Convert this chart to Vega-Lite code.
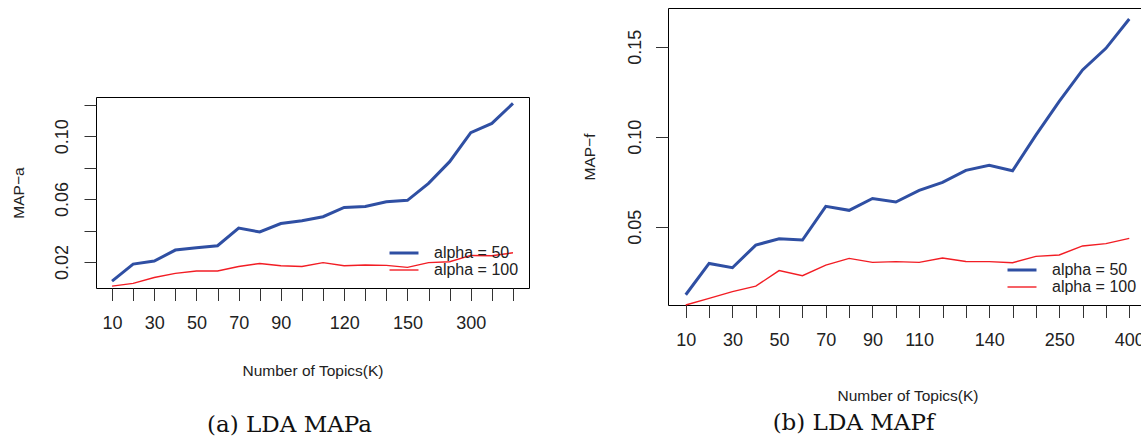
{
  "$schema": "https://vega.github.io/schema/vega-lite/v6.json",
  "padding": {"left": 10, "top": 7, "right": 0, "bottom": 0},
  "background": "white",
  "config": {
    "font": "Liberation Sans",
    "view": {"stroke": "#000", "strokeWidth": 1},
    "axis": {
      "grid": false, "domain": false, "tickColor": "#333", "tickWidth": 1,
      "labelFont": "Liberation Sans", "labelFontSize": 18, "labelColor": "#222",
      "labelOverlap": false, "labelFlush": false,
      "titleFont": "Liberation Sans", "titleFontSize": 15.5, "titleFontWeight": "normal", "titleColor": "#222"
    },
    "legend": {
      "symbolType": "M-2,0H2", "symbolSize": 210, "symbolStrokeWidth": 3,
      "labelFont": "Liberation Sans", "labelFontSize": 16, "labelColor": "#222",
      "labelOffset": 21, "rowPadding": 1, "padding": 0
    },
    "title": {"font": "DejaVu Serif", "fontSize": 23, "fontWeight": "normal", "color": "#111", "orient": "bottom", "anchor": "middle", "frame": "group"}
  },
  "datasets": {
    "mapa": [
      {"K": 10, "series": "alpha = 50", "value": 0.0079},
      {"K": 20, "series": "alpha = 50", "value": 0.0187},
      {"K": 30, "series": "alpha = 50", "value": 0.0206},
      {"K": 40, "series": "alpha = 50", "value": 0.0276},
      {"K": 50, "series": "alpha = 50", "value": 0.0291},
      {"K": 60, "series": "alpha = 50", "value": 0.0304},
      {"K": 70, "series": "alpha = 50", "value": 0.0416},
      {"K": 80, "series": "alpha = 50", "value": 0.0391},
      {"K": 90, "series": "alpha = 50", "value": 0.0445},
      {"K": 100, "series": "alpha = 50", "value": 0.0463},
      {"K": 110, "series": "alpha = 50", "value": 0.0488},
      {"K": 120, "series": "alpha = 50", "value": 0.0547},
      {"K": 130, "series": "alpha = 50", "value": 0.0553},
      {"K": 140, "series": "alpha = 50", "value": 0.0583},
      {"K": 150, "series": "alpha = 50", "value": 0.0592},
      {"K": 200, "series": "alpha = 50", "value": 0.0700},
      {"K": 250, "series": "alpha = 50", "value": 0.0838},
      {"K": 300, "series": "alpha = 50", "value": 0.1022},
      {"K": 350, "series": "alpha = 50", "value": 0.1081},
      {"K": 400, "series": "alpha = 50", "value": 0.1208},
      {"K": 10, "series": "alpha = 100", "value": 0.0047},
      {"K": 20, "series": "alpha = 100", "value": 0.0064},
      {"K": 30, "series": "alpha = 100", "value": 0.0102},
      {"K": 40, "series": "alpha = 100", "value": 0.0128},
      {"K": 50, "series": "alpha = 100", "value": 0.0143},
      {"K": 60, "series": "alpha = 100", "value": 0.0143},
      {"K": 70, "series": "alpha = 100", "value": 0.0172},
      {"K": 80, "series": "alpha = 100", "value": 0.0191},
      {"K": 90, "series": "alpha = 100", "value": 0.0176},
      {"K": 100, "series": "alpha = 100", "value": 0.0172},
      {"K": 110, "series": "alpha = 100", "value": 0.0196},
      {"K": 120, "series": "alpha = 100", "value": 0.0176},
      {"K": 130, "series": "alpha = 100", "value": 0.0181},
      {"K": 140, "series": "alpha = 100", "value": 0.0179},
      {"K": 150, "series": "alpha = 100", "value": 0.0166},
      {"K": 200, "series": "alpha = 100", "value": 0.0196},
      {"K": 250, "series": "alpha = 100", "value": 0.0202},
      {"K": 300, "series": "alpha = 100", "value": 0.0242},
      {"K": 350, "series": "alpha = 100", "value": 0.0240},
      {"K": 400, "series": "alpha = 100", "value": 0.0259}
    ],
    "mapf": [
      {"K": 10, "series": "alpha = 50", "value": 0.0122},
      {"K": 20, "series": "alpha = 50", "value": 0.0296},
      {"K": 30, "series": "alpha = 50", "value": 0.0272},
      {"K": 40, "series": "alpha = 50", "value": 0.0398},
      {"K": 50, "series": "alpha = 50", "value": 0.0433},
      {"K": 60, "series": "alpha = 50", "value": 0.0426},
      {"K": 70, "series": "alpha = 50", "value": 0.0613},
      {"K": 80, "series": "alpha = 50", "value": 0.0591},
      {"K": 90, "series": "alpha = 50", "value": 0.0657},
      {"K": 100, "series": "alpha = 50", "value": 0.0637},
      {"K": 110, "series": "alpha = 50", "value": 0.0702},
      {"K": 120, "series": "alpha = 50", "value": 0.0746},
      {"K": 130, "series": "alpha = 50", "value": 0.0813},
      {"K": 140, "series": "alpha = 50", "value": 0.0841},
      {"K": 150, "series": "alpha = 50", "value": 0.0811},
      {"K": 200, "series": "alpha = 50", "value": 0.1009},
      {"K": 250, "series": "alpha = 50", "value": 0.1196},
      {"K": 300, "series": "alpha = 50", "value": 0.1371},
      {"K": 350, "series": "alpha = 50", "value": 0.1491},
      {"K": 400, "series": "alpha = 50", "value": 0.1654},
      {"K": 10, "series": "alpha = 100", "value": 0.0065},
      {"K": 20, "series": "alpha = 100", "value": 0.0102},
      {"K": 30, "series": "alpha = 100", "value": 0.0139},
      {"K": 40, "series": "alpha = 100", "value": 0.0170},
      {"K": 50, "series": "alpha = 100", "value": 0.0256},
      {"K": 60, "series": "alpha = 100", "value": 0.0228},
      {"K": 70, "series": "alpha = 100", "value": 0.0287},
      {"K": 80, "series": "alpha = 100", "value": 0.0324},
      {"K": 90, "series": "alpha = 100", "value": 0.0302},
      {"K": 100, "series": "alpha = 100", "value": 0.0306},
      {"K": 110, "series": "alpha = 100", "value": 0.0302},
      {"K": 120, "series": "alpha = 100", "value": 0.0326},
      {"K": 130, "series": "alpha = 100", "value": 0.0307},
      {"K": 140, "series": "alpha = 100", "value": 0.0306},
      {"K": 150, "series": "alpha = 100", "value": 0.0300},
      {"K": 200, "series": "alpha = 100", "value": 0.0335},
      {"K": 250, "series": "alpha = 100", "value": 0.0343},
      {"K": 300, "series": "alpha = 100", "value": 0.0393},
      {"K": 350, "series": "alpha = 100", "value": 0.0406},
      {"K": 400, "series": "alpha = 100", "value": 0.0435}
    ]
  },
  "resolve": {"scale": {"color": "independent", "strokeWidth": "independent"}, "legend": {"color": "independent"}},
  "spacing": 52,
  "hconcat": [
    {
      "spacing": 0,
      "resolve": {"scale": {"color": "independent", "strokeWidth": "independent"}, "legend": {"color": "independent"}},
      "vconcat": [
        {
          "width": 100, "height": 88,
          "data": {"values": []},
          "mark": {"type": "point", "opacity": 0},
          "encoding": {},
          "view": {"stroke": null}
        },
        {
          "data": {"name": "mapa"},
          "width": 433, "height": 191,
          "title": {"text": "(a) LDA MAPa", "dx": -23, "offset": 35},
          "mark": {"type": "line"},
          "encoding": {
            "x": {
              "field": "K", "type": "ordinal",
              "scale": {"type": "point", "padding": 0.76},
              "axis": {
                "title": "Number of Topics(K)", "labelAngle": 0,
                "labelExpr": "datum.value == 10 || datum.value == 30 || datum.value == 50 || datum.value == 70 || datum.value == 90 || datum.value == 120 || datum.value == 150 || datum.value == 300 ? datum.label : ''",
                "tickSize": 12.5, "labelPadding": 13.5, "titlePadding": 31
              }
            },
            "y": {
              "field": "value", "type": "quantitative",
              "scale": {"domain": [0.0035, 0.1249], "nice": false, "zero": false},
              "axis": {
                "title": "MAP−a", "values": [0.02, 0.04, 0.06, 0.08, 0.1, 0.12], "format": ".2f",
                "labelExpr": "datum.label == '0.02' || datum.label == '0.06' || datum.label == '0.10' ? datum.label : ''",
                "labelAngle": -90, "labelAlign": "center", "labelBaseline": "bottom",
                "tickSize": 12, "labelPadding": 13, "titlePadding": 27
              }
            },
            "color": {
              "field": "series", "type": "nominal",
              "scale": {"domain": ["alpha = 50", "alpha = 100"], "range": ["#2f4fa3", "#f21d24"]},
              "legend": {"title": null, "orient": "bottom-right", "offset": 10}
            },
            "strokeWidth": {
              "field": "series", "type": "nominal",
              "scale": {"domain": ["alpha = 50", "alpha = 100"], "range": [3, 1.4]},
              "legend": null
            }
          }
        }
      ]
    },
    {
      "data": {"name": "mapf"},
      "width": 479, "height": 297,
      "title": {"text": "(b) LDA MAPf", "dx": -54, "offset": 8},
      "mark": {"type": "line"},
      "encoding": {
        "x": {
          "field": "K", "type": "ordinal",
          "scale": {"type": "point", "padding": 0.76},
          "axis": {
            "title": "Number of Topics(K)", "labelAngle": 0,
            "labelExpr": "datum.value == 10 || datum.value == 30 || datum.value == 50 || datum.value == 70 || datum.value == 90 || datum.value == 110 || datum.value == 140 || datum.value == 250 || datum.value == 400 ? datum.label : ''",
            "tickSize": 12.5, "labelPadding": 14, "titlePadding": 39
          }
        },
        "y": {
          "field": "value", "type": "quantitative",
          "scale": {"domain": [0.0065, 0.1715], "nice": false, "zero": false},
          "axis": {
            "title": "MAP−f", "values": [0.05, 0.1, 0.15], "format": ".2f",
            "labelAngle": -90, "labelAlign": "center", "labelBaseline": "bottom",
            "tickSize": 12.5, "labelPadding": 11, "titlePadding": 29
          }
        },
        "color": {
          "field": "series", "type": "nominal",
          "scale": {"domain": ["alpha = 50", "alpha = 100"], "range": ["#2f4fa3", "#f21d24"]},
          "legend": {"title": null, "orient": "bottom-right", "offset": 10}
        },
        "strokeWidth": {
          "field": "series", "type": "nominal",
          "scale": {"domain": ["alpha = 50", "alpha = 100"], "range": [3, 1.4]},
          "legend": null
        }
      }
    }
  ]
}
